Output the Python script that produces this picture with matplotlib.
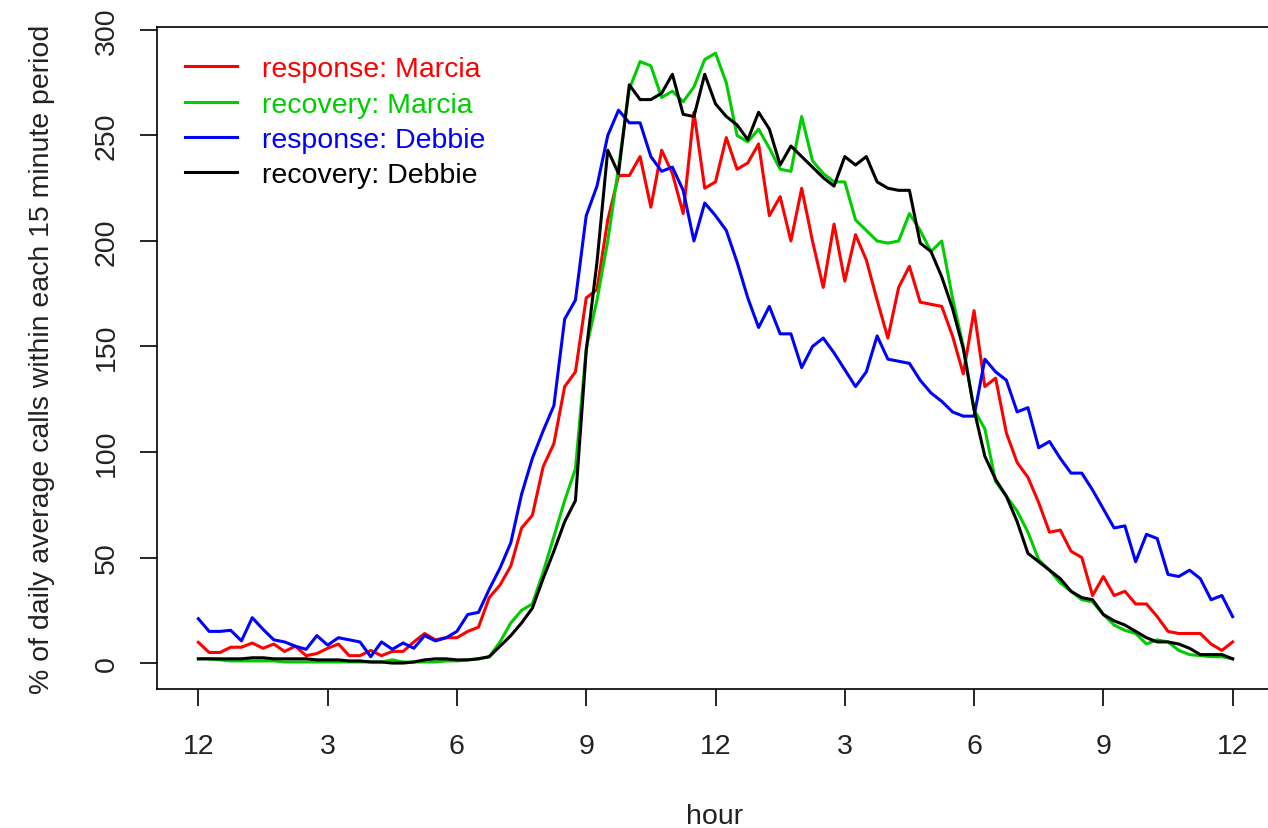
import numpy as np
import matplotlib.pyplot as plt

plt.rcParams['font.family'] = ['Liberation Sans', 'DejaVu Sans']

# 15 minute periods over one day
hours = np.arange(0, 24.25, 0.25)

resp_marcia = [9.8, 5, 5, 7.5, 7.5, 9.5, 7, 9, 5.5, 8, 3.5, 4.5, 7, 9, 3.5, 3.5, 6, 3.5, 5.5, 5.5, 10, 14, 11, 12, 12, 15, 17,
               31, 37, 46, 64, 70, 93, 104, 131, 138,
               173, 177, 210, 231, 231, 240, 216, 243, 232, 213, 261, 225, 228, 249, 234, 237, 246, 212, 221, 200, 225,
               200, 178, 208, 181, 203, 191, 172, 154, 178, 188, 171, 170, 169, 155, 137, 167, 131, 135,
               109, 95, 88, 76, 62, 63, 53, 50, 32, 41, 32, 34, 28, 28, 22, 15, 14, 14, 14, 9, 6, 10]

rec_marcia = [2, 2, 1.5, 1, 1, 1, 1, 1, 0.5, 0.5, 0.5, 0.5, 0.5, 0.5, 0.5, 0.5, 0.5, 0.5, 1.5, 0.5, 0.5, 0.5, 0.5, 1, 1, 1.5, 2,
              3, 10, 19, 25, 28, 43, 60, 77, 92,
              149, 172, 200, 235, 272, 285, 283, 268, 271, 266, 273, 286, 289, 275, 250, 247, 253, 244, 234, 233, 259,
              238, 232, 228, 228, 210, 205, 200, 199, 200, 213, 205, 195, 200, 173, 150, 120, 111, 86,
              79, 72, 62, 49, 44, 38, 34, 30, 29, 23, 18, 15.5, 14, 9, 11, 10, 6, 4, 3.5, 3, 3, 2]

resp_debbie = [21, 15, 15, 15.5, 10.5, 21.5, 16, 11, 10, 8, 6.5, 13, 8.5, 12, 11, 10, 3, 10, 6.5, 9.5, 7, 13, 10.5, 12, 15, 23, 24,
               35, 45, 57, 80, 97, 110, 122, 163, 172,
               212, 226, 250, 262, 256, 256, 240, 233, 235, 224, 200, 218, 212, 205, 190, 173, 159, 169, 156, 156, 140,
               150, 154, 147, 139, 131, 138, 155, 144, 143, 142, 134, 128, 124, 119, 117, 117, 144, 138,
               134, 119, 121, 102, 105, 97, 90, 90, 82, 73, 64, 65, 48, 61, 59, 42, 41, 44, 40, 30, 32, 22]

rec_debbie = [2, 2, 2, 2, 2, 2.5, 2.5, 2, 2, 2, 2, 1.5, 1.5, 1.5, 1, 1, 0.5, 0.5, 0, 0, 0.5, 1.5, 2, 2, 1.5, 1.5, 2,
              3, 8, 13, 19, 26, 40, 53, 67, 77,
              148, 190, 243, 232, 274, 267, 267, 270, 279, 260, 259, 279, 265, 259, 255, 248, 261, 253, 236, 245, 240,
              235, 230, 226, 240, 236, 240, 228, 225, 224, 224, 199, 195, 183, 168, 149, 120, 98, 87,
              79, 67, 52, 48, 44, 40, 34, 31, 30, 23, 20, 18, 15, 12, 10, 10, 9, 7, 4, 4, 4, 2]

series = [("response: Marcia", resp_marcia, "#FF0000"),
          ("recovery: Marcia", rec_marcia, "#00CD00"),
          ("response: Debbie", resp_debbie, "#0000FF"),
          ("recovery: Debbie", rec_debbie, "#000000")]

tick_pos = [0, 3, 6, 9, 12, 15, 18, 21, 24]
tick_lab = ['12', '3', '6', '9', '12', '3', '6', '9', '12']
y_ticks = [0, 50, 100, 150, 200, 250, 300]

W, H = 1268, 829
fig = plt.figure(figsize=(W / 100, H / 100), dpi=100)
ax = fig.add_axes([157 / W, 1 - 690 / H, 1117 / W, 662 / H])

for name, vals, col in series:
    ax.plot(hours, vals, color=col, lw=2.2, label=name)

ax.set_xlim(-0.96, 24.96)
ax.set_ylim(-12.3, 301.4)
ax.set_xticks(tick_pos)
ax.set_xticklabels(tick_lab)
ax.set_yticks(y_ticks)
ax.set_yticklabels([str(v) for v in y_ticks], rotation=90, va='center')

for s in ax.spines.values():
    s.set_linewidth(1.2)
ax.tick_params(axis='both', length=12, width=1.2, labelsize=20.5, labelcolor='#222222')
ax.tick_params(axis='x', pad=20)
ax.tick_params(axis='y', pad=15)

fig.text(42 / W, 1 - 359 / H, '% of daily average calls within each 15 minute period',
         rotation=90, ha='center', va='center', fontsize=20.5, color='#222222')
fig.text(715 / W, 1 - 817 / H, 'hour', ha='center', va='center', fontsize=20.5, color='#222222')

ax.legend(loc='upper left', bbox_to_anchor=(0.025, 0.956), frameon=False, fontsize=20.5,
          handlelength=1.82, handletextpad=0.9, labelspacing=0.33, borderaxespad=0, borderpad=0,
          labelcolor='linecolor')

fig.savefig('out.png', dpi=100)
